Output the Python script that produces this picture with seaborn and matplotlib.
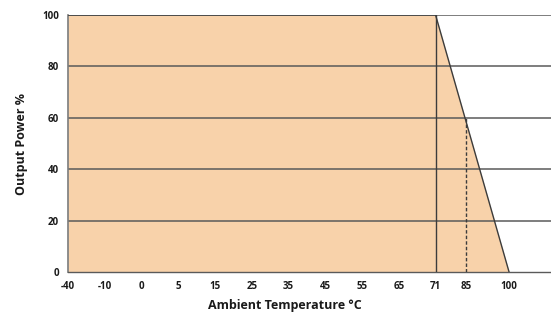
import matplotlib
matplotlib.use("Agg")
import matplotlib.pyplot as plt
import seaborn as sns
import pandas as pd

# derating curve data (temperature labels sit on an uneven axis)
temp_labels = ['-40', '-10', '0', '5', '15', '25', '35', '45', '55', '65', '71', '85', '100']
temp_pos = [0, 1, 2, 3, 4, 5, 6, 7, 8, 9, 10, 10.83, 12]
curve_pos = [0, 10, 12]
curve_power = [100, 100, 0]
knee_pos = 10
dash_pos = 10.83
dash_power = 60
y_ticks = [0, 20, 40, 60, 80, 100]

sns.set_style("white")
plt.rcParams['font.family'] = ['Open Sans', 'DejaVu Sans']

fig = plt.figure(figsize=(5.51, 3.16), dpi=100)
ax = fig.add_axes([0.1234, 0.139, 0.8766, 0.8135])

df = pd.DataFrame({'pos': curve_pos, 'power': curve_power})
ax.fill_between(df['pos'], df['power'], 0, color='#F8D2AA', zorder=1, linewidth=0)

for y in y_ticks[1:]:
    ax.axhline(y, color='#5a5a5a', lw=1.1, zorder=2)

sns.lineplot(data=df, x='pos', y='power', ax=ax, color='#3c3c3c', lw=1.0, zorder=3)
ax.plot([knee_pos, knee_pos], [0, 100], color='#3c3c3c', lw=1.0, zorder=3)
ax.plot([dash_pos, dash_pos], [0, dash_power], color='#3c3c3c', lw=1.0,
        ls=(0, (2.5, 1.5)), zorder=3)

ax.set_xlim(0, 13.14)
ax.set_ylim(0, 100)
ax.set_xticks(temp_pos)
ax.set_xticklabels(temp_labels)
ax.set_yticks(y_ticks)
ax.tick_params(axis='both', which='both', direction='out', length=4, width=1,
               color='#6a6a6a', labelsize=7, pad=2.5)
for lab in ax.get_xticklabels() + ax.get_yticklabels():
    lab.set_fontweight('bold')
    lab.set_color('#1a1a1a')

for s in ['top', 'right']:
    ax.spines[s].set_visible(False)
ax.spines['left'].set_color('#7a7a7a')
ax.spines['bottom'].set_color('#5a5a5a')
ax.spines['left'].set_linewidth(1.2)
ax.spines['bottom'].set_linewidth(1.0)

ax.set_xlabel('Ambient Temperature °C', fontsize=9, fontweight='bold', color='#1a1a1a', labelpad=3)
ax.set_ylabel('Output Power %', fontsize=9, fontweight='bold', color='#1a1a1a', labelpad=10)
ax.xaxis.set_label_coords(0.45, -0.105)

fig.savefig('out.png', dpi=100)
